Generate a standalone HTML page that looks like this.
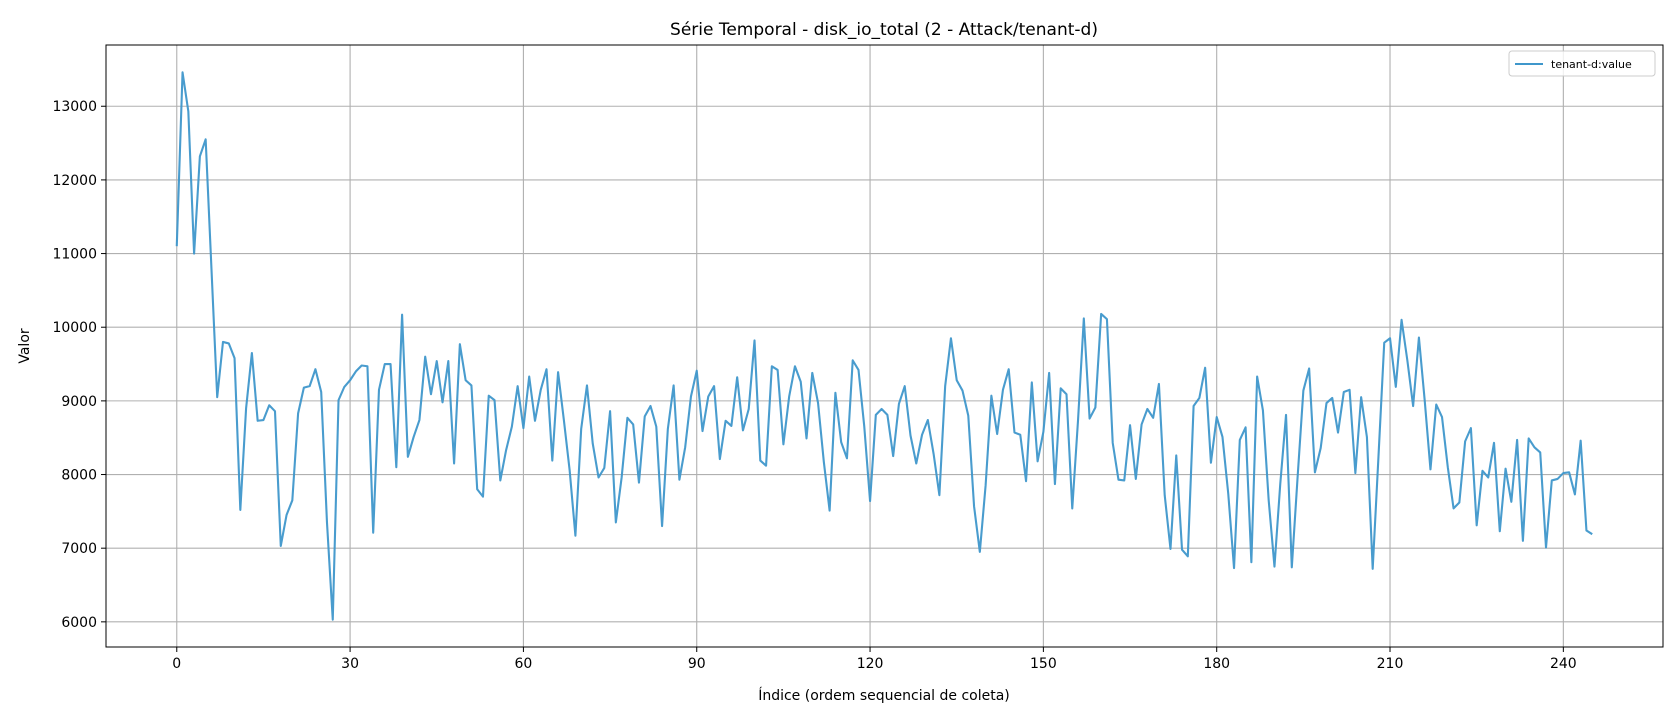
<!DOCTYPE html>
<html><head><meta charset="utf-8">
<style>
html,body{margin:0;padding:0;background:#fff;}
svg{display:block;font-family:"DejaVu Sans","Liberation Sans",sans-serif;}
</style></head>
<body>
<svg id="chart" width="1680" height="720" viewBox="0 0 1680 720" xmlns="http://www.w3.org/2000/svg">
<rect x="0" y="0" width="1680" height="720" fill="#fff"/>
<text x="884" y="35" text-anchor="middle" font-size="17" fill="#000">Série Temporal - disk_io_total (2 - Attack/tenant-d)</text>
<g id="grid"></g>
<g id="ticks"></g>
<g id="series"></g>
<rect x="106" y="45" width="1557" height="602" fill="none" stroke="#000" stroke-width="1"/>
<text x="884" y="700" text-anchor="middle" font-size="14" fill="#000">Índice (ordem sequencial de coleta)</text>
<text x="0" y="0" transform="translate(29,346) rotate(-90)" text-anchor="middle" font-size="14" fill="#000">Valor</text>
<g>
<rect x="1509" y="51" width="146" height="25" rx="3" fill="#fff" fill-opacity="0.8" stroke="#ccc" stroke-width="1"/>
<line x1="1515" y1="64" x2="1543" y2="64" stroke="#3f97cb" stroke-width="2"/>
<text x="1551" y="68" font-size="11" fill="#000">tenant-d:value</text>
</g>
</svg>
<script>
const xTicks = [0,30,60,90,120,150,180,210,240];
const yTicks = [6000,7000,8000,9000,10000,11000,12000,13000];
const values = [
11100,13460,12930,11000,12320,12550,10800,9050,9800,9780,
9580,7520,8900,9650,8730,8740,8940,8860,7030,7450,
7650,8830,9180,9200,9430,9120,7350,6030,9010,9190,
9280,9400,9480,9470,7210,9150,9500,9500,8100,10170,
8240,8510,8740,9600,9090,9540,8980,9540,8150,9770,
9280,9210,7800,7700,9070,9010,7920,8330,8650,9200,
8630,9330,8730,9150,9430,8190,9390,8740,8060,7170,
8620,9210,8420,7960,8090,8860,7350,7960,8770,8680,
7890,8790,8930,8650,7300,8620,9210,7930,8370,9060,
9410,8590,9060,9200,8210,8730,8660,9320,8600,8890,
9820,8190,8120,9470,9420,8410,9060,9470,9260,8490,
9380,8970,8170,7510,9110,8440,8220,9550,9420,8650,
7640,8810,8890,8810,8250,8960,9200,8530,8150,8540,
8740,8280,7720,9200,9850,9280,9140,8800,7570,6950,
7850,9070,8550,9150,9430,8570,8540,7910,9250,8180,
8580,9380,7870,9170,9090,7540,8740,10120,8760,8910,
10180,10110,8430,7930,7920,8670,7940,8680,8890,8770,
9230,7720,6990,8260,6980,6890,8930,9040,9450,8160,
8780,8510,7740,6730,8470,8640,6810,9330,8870,7650,
6750,7870,8810,6740,7960,9140,9440,8030,8360,8970,
9040,8570,9120,9150,8020,9050,8510,6720,8240,9790,
9850,9190,10100,9550,8930,9860,9010,8070,8950,8780,
8100,7540,7620,8450,8630,7310,8050,7960,8430,7230,
8080,7630,8470,7100,8490,8370,8300,7010,7920,7940,
8020,8030,7730,8460,7240,7190
];
const NS = 'http://www.w3.org/2000/svg';
const L = 106, R = 1663, T = 45, B = 647;
const n = values.length;
const xPad = (n - 1) * 0.05;
const xMin = -xPad, xMax = (n - 1) + xPad;
const vMin = Math.min(...values), vMax = Math.max(...values);
const yPad = (vMax - vMin) * 0.05;
const yMin = vMin - yPad, yMax = vMax + yPad;
function xScale(i){ return L + (i - xMin) / (xMax - xMin) * (R - L); }
function yScale(v){ return B - (v - yMin) / (yMax - yMin) * (B - T); }
function mk(tag, attrs, parent){
  const e = document.createElementNS(NS, tag);
  for (const k in attrs) e.setAttribute(k, attrs[k]);
  parent.appendChild(e);
  return e;
}
const grid = document.getElementById('grid');
const ticks = document.getElementById('ticks');
xTicks.forEach(t => {
  const x = xScale(t);
  const gl = mk('line', {x1:x, y1:T, x2:x, y2:B, stroke:'#b0b0b0', 'stroke-width':1.1}, grid);
  
  
  const tk = mk('line', {x1:x, y1:B, x2:x, y2:B+5, stroke:'#000', 'stroke-width':1}, ticks);
  
  
  const tl = mk('text', {x:x, y:B+21, 'text-anchor':'middle', 'font-size':14, fill:'#000'}, ticks);
  tl.textContent = t;
  
  
});
yTicks.forEach(t => {
  const y = yScale(t);
  const gl = mk('line', {x1:L, y1:y, x2:R, y2:y, stroke:'#b0b0b0', 'stroke-width':1.1}, grid);
  
  
  const tk = mk('line', {x1:L-5, y1:y, x2:L, y2:y, stroke:'#000', 'stroke-width':1}, ticks);
  
  
  const tl = mk('text', {x:L-9, y:y+5, 'text-anchor':'end', 'font-size':14, fill:'#000'}, ticks);
  tl.textContent = t;
  
  
});
const pts = values.map((v, i) => xScale(i).toFixed(2) + ',' + yScale(v).toFixed(2)).join(' ');
const line = mk('polyline', {points:pts, fill:'none', stroke:'#3f97cb', 'stroke-opacity':0.95, 'stroke-width':2.1, 'stroke-linejoin':'round'}, document.getElementById('series'));


</script>
</body></html>
